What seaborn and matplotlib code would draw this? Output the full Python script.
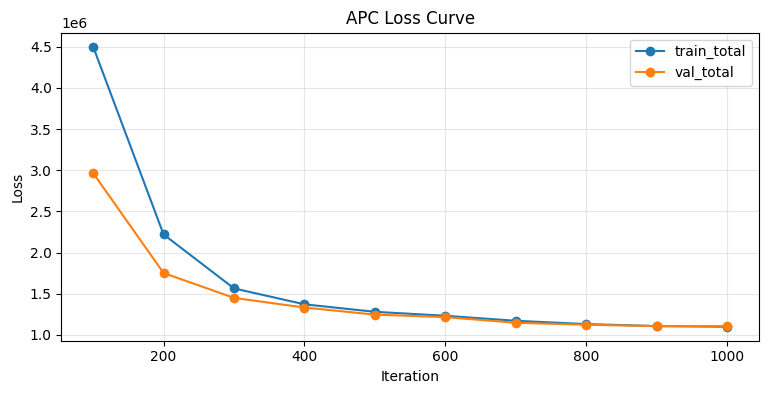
import matplotlib
matplotlib.use("Agg")
import matplotlib.pyplot as plt
import seaborn as sns
import pandas as pd

iterations = [100, 200, 300, 400, 500, 600, 700, 800, 900, 1000]
train_total = [4.50e6, 2.22e6, 1.565e6, 1.372e6, 1.281e6, 1.233e6, 1.172e6, 1.132e6, 1.108e6, 1.100e6]
val_total = [2.965e6, 1.752e6, 1.450e6, 1.333e6, 1.247e6, 1.217e6, 1.148e6, 1.124e6, 1.107e6, 1.107e6]

df = pd.DataFrame({
    "Iteration": iterations * 2,
    "Loss": train_total + val_total,
    "series": ["train_total"] * len(iterations) + ["val_total"] * len(iterations),
})

fig, ax = plt.subplots(figsize=(7.68, 3.93), dpi=100)
sns.lineplot(data=df, x="Iteration", y="Loss", hue="series", marker="o",
             markeredgewidth=0, markersize=7, palette=["#1f77b4", "#ff7f0e"], ax=ax)
ax.set_title("APC Loss Curve")
ax.set_xlabel("Iteration")
ax.set_ylabel("Loss")
ax.grid(True, alpha=0.3)
ax.legend(title=None, loc="upper right")
fig.subplots_adjust(left=0.080, right=0.988, top=0.917, bottom=0.133)
fig.savefig("out.png", dpi=100)
